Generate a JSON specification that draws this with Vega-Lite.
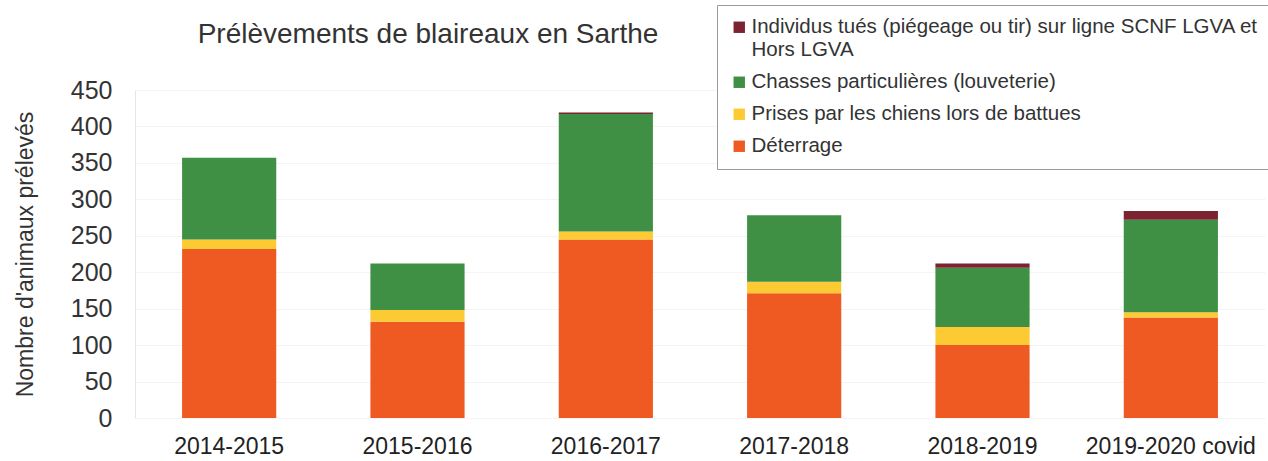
{
  "$schema": "https://vega.github.io/schema/vega-lite/v6.json",
  "width": 1130,
  "height": 328,
  "autosize": {"type": "none"},
  "padding": {"left": 135, "top": 90, "right": 3, "bottom": 43},
  "background": "white",
  "title": {
    "text": "Prélèvements de blaireaux en Sarthe",
    "anchor": "middle",
    "dx": -272,
    "offset": -44,
    "font": "Liberation Sans",
    "fontSize": 28,
    "fontWeight": "normal",
    "color": "#333333"
  },
  "data": {
    "values": [
      {"saison": "2014-2015", "categorie": "Déterrage", "rang": 1, "n": 232},
      {"saison": "2014-2015", "categorie": "Prises par les chiens lors de battues", "rang": 2, "n": 13},
      {"saison": "2014-2015", "categorie": "Chasses particulières (louveterie)", "rang": 3, "n": 112},
      {"saison": "2014-2015", "categorie": "Individus tués (piégeage ou tir) sur ligne SCNF LGVA et Hors LGVA", "rang": 4, "n": 0},
      {"saison": "2015-2016", "categorie": "Déterrage", "rang": 1, "n": 132},
      {"saison": "2015-2016", "categorie": "Prises par les chiens lors de battues", "rang": 2, "n": 16},
      {"saison": "2015-2016", "categorie": "Chasses particulières (louveterie)", "rang": 3, "n": 64},
      {"saison": "2015-2016", "categorie": "Individus tués (piégeage ou tir) sur ligne SCNF LGVA et Hors LGVA", "rang": 4, "n": 0},
      {"saison": "2016-2017", "categorie": "Déterrage", "rang": 1, "n": 245},
      {"saison": "2016-2017", "categorie": "Prises par les chiens lors de battues", "rang": 2, "n": 11},
      {"saison": "2016-2017", "categorie": "Chasses particulières (louveterie)", "rang": 3, "n": 161},
      {"saison": "2016-2017", "categorie": "Individus tués (piégeage ou tir) sur ligne SCNF LGVA et Hors LGVA", "rang": 4, "n": 2},
      {"saison": "2017-2018", "categorie": "Déterrage", "rang": 1, "n": 171},
      {"saison": "2017-2018", "categorie": "Prises par les chiens lors de battues", "rang": 2, "n": 16},
      {"saison": "2017-2018", "categorie": "Chasses particulières (louveterie)", "rang": 3, "n": 91},
      {"saison": "2017-2018", "categorie": "Individus tués (piégeage ou tir) sur ligne SCNF LGVA et Hors LGVA", "rang": 4, "n": 0},
      {"saison": "2018-2019", "categorie": "Déterrage", "rang": 1, "n": 100},
      {"saison": "2018-2019", "categorie": "Prises par les chiens lors de battues", "rang": 2, "n": 25},
      {"saison": "2018-2019", "categorie": "Chasses particulières (louveterie)", "rang": 3, "n": 81},
      {"saison": "2018-2019", "categorie": "Individus tués (piégeage ou tir) sur ligne SCNF LGVA et Hors LGVA", "rang": 4, "n": 6},
      {"saison": "2019-2020 covid", "categorie": "Déterrage", "rang": 1, "n": 138},
      {"saison": "2019-2020 covid", "categorie": "Prises par les chiens lors de battues", "rang": 2, "n": 7},
      {"saison": "2019-2020 covid", "categorie": "Chasses particulières (louveterie)", "rang": 3, "n": 127},
      {"saison": "2019-2020 covid", "categorie": "Individus tués (piégeage ou tir) sur ligne SCNF LGVA et Hors LGVA", "rang": 4, "n": 12}
    ]
  },
  "mark": {"type": "bar"},
  "encoding": {
    "x": {
      "field": "saison",
      "type": "nominal",
      "sort": null,
      "scale": {"paddingInner": 0.5, "paddingOuter": 0.25},
      "axis": {
        "title": null,
        "labelAngle": 0,
        "labelFont": "Liberation Sans",
        "labelFontSize": 23,
        "labelColor": "#222222",
        "labelPadding": 17,
        "ticks": false,
        "domain": false,
        "grid": false
      }
    },
    "y": {
      "field": "n",
      "type": "quantitative",
      "stack": "zero",
      "scale": {"domain": [0, 450], "nice": false},
      "axis": {
        "title": "Nombre d'animaux prélevés",
        "titleFont": "Liberation Sans",
        "titleFontSize": 23,
        "titleFontWeight": "normal",
        "titleColor": "#333333",
        "titlePadding": 33,
        "values": [0, 50, 100, 150, 200, 250, 300, 350, 400, 450],
        "labelFont": "Liberation Sans",
        "labelFontSize": 25,
        "labelColor": "#333333",
        "labelPadding": 23,
        "ticks": false,
        "domain": true,
        "domainColor": "#e6e6e6",
        "grid": true,
        "gridColor": "#f4f4f4"
      }
    },
    "color": {
      "field": "categorie",
      "type": "nominal",
      "scale": {
        "domain": [
          "Individus tués (piégeage ou tir) sur ligne SCNF LGVA et Hors LGVA",
          "Chasses particulières (louveterie)",
          "Prises par les chiens lors de battues",
          "Déterrage"
        ],
        "range": ["#7b2331", "#3f8f45", "#fcca33", "#ef5a23"]
      },
      "legend": {
        "title": null,
        "orient": "none",
        "legendX": 582,
        "legendY": -85,
        "fillColor": "white",
        "strokeColor": "#9a9a9a",
        "padding": 12,
        "symbolType": "square",
        "symbolSize": 130,
        "symbolStrokeWidth": 0,
        "labelOffset": 2,
        "labelFont": "Liberation Sans",
        "labelFontSize": 20.5,
        "labelColor": "#333333",
        "labelLimit": 700,
        "rowPadding": 11,
        "labelExpr": "datum.label == 'Individus tués (piégeage ou tir) sur ligne SCNF LGVA et Hors LGVA' ? ['Individus tués (piégeage ou tir) sur ligne SCNF LGVA et', 'Hors LGVA'] : datum.label"
      }
    },
    "order": {"field": "rang", "type": "quantitative"}
  },
  "config": {"view": {"stroke": null}}
}
